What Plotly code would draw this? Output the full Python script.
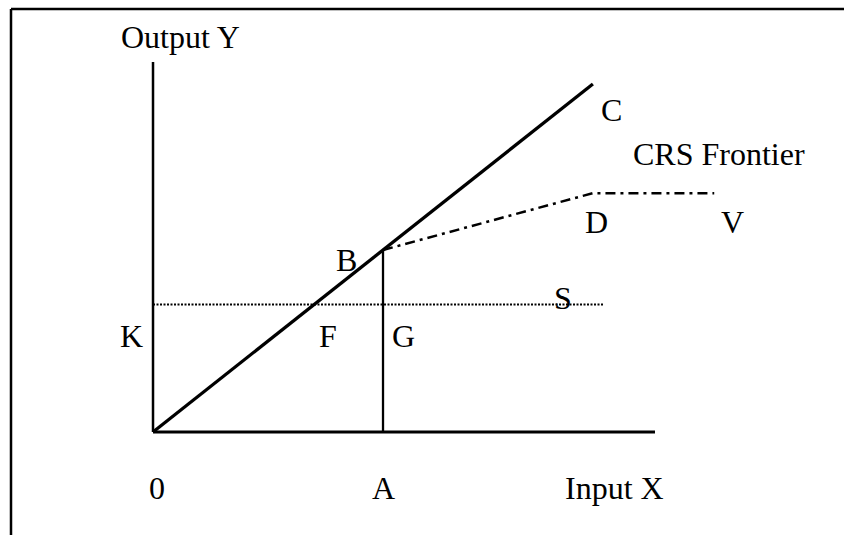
import plotly.graph_objects as go

# --- data (diagram units) ---
A_x = 4.0
B_y = 4.0
C_xy = 7.65
S_y = 2.8
S_end_x = 7.84
D_x = 7.65
D_y = 5.25
V_end_x = 9.76
x_axis_end = 8.73
y_axis_top = 8.13

crs_x = [0.0, C_xy]
crs_y = [0.0, C_xy]
vrs_x = [A_x, D_x, V_end_x]
vrs_y = [B_y, D_y, D_y]
s_x = [0.0, S_end_x]
s_y = [S_y, S_y]
ab_x = [A_x, A_x]
ab_y = [0.0, B_y]

label_text = ["Output Y", "C", "CRS Frontier", "D", "V", "B", "S", "K", "F", "G", "0", "A", "Input X"]
label_x = [0.47, 7.97, 9.84, 7.72, 10.07, 3.37, 7.13, -0.37, 3.04, 4.35, 0.07, 4.0, 8.03]
label_y = [8.68, 7.08, 6.11, 4.62, 4.62, 3.78, 2.95, 2.11, 2.11, 2.11, -1.23, -1.23, -1.23]

X_RANGE = [-2.661, 12.017]
Y_RANGE = [-2.264, 9.495]

fig = go.Figure()
black = "black"

# axes
fig.add_trace(go.Scatter(x=[0, x_axis_end], y=[0, 0], mode="lines",
                         line=dict(color=black, width=3), hoverinfo="skip"))
fig.add_trace(go.Scatter(x=[0, 0], y=[0, y_axis_top], mode="lines",
                         line=dict(color=black, width=2.5), hoverinfo="skip"))
# CRS frontier
fig.add_trace(go.Scatter(x=crs_x, y=crs_y, mode="lines",
                         line=dict(color=black, width=3.3), hoverinfo="skip"))
# vertical A-B
fig.add_trace(go.Scatter(x=ab_x, y=ab_y, mode="lines",
                         line=dict(color=black, width=2.3), hoverinfo="skip"))
# dotted K-S
fig.add_trace(go.Scatter(x=s_x, y=s_y, mode="lines",
                         line=dict(color=black, width=2, dash="2px,1.5px"), hoverinfo="skip"))
# VRS frontier dash-dot
fig.add_trace(go.Scatter(x=vrs_x, y=vrs_y, mode="lines",
                         line=dict(color=black, width=2.5, dash="10px,5px,3px,5px"), hoverinfo="skip"))

for t, x, y in zip(label_text, label_x, label_y):
    fig.add_annotation(x=x, y=y, text=t, showarrow=False, xanchor="center", yanchor="middle",
                       font=dict(family="Liberation Serif, Times New Roman, serif", size=32, color=black))

# frame (top and left border)
fig.add_shape(type="line", xref="paper", yref="paper", x0=11/844, x1=1, y0=1-9/535, y1=1-9/535,
              line=dict(color=black, width=2.5))
fig.add_shape(type="line", xref="paper", yref="paper", x0=11/844, x1=11/844, y0=0, y1=1-9/535,
              line=dict(color=black, width=2.5))

fig.update_layout(width=844, height=535, margin=dict(l=0, r=0, t=0, b=0),
                  paper_bgcolor="white", plot_bgcolor="white", showlegend=False,
                  xaxis=dict(range=X_RANGE, visible=False, fixedrange=True),
                  yaxis=dict(range=Y_RANGE, visible=False, fixedrange=True))

fig.write_html("out.html", config={"displayModeBar": False},
               post_script="document.body.style.margin='0';document.body.style.overflow='hidden';")
